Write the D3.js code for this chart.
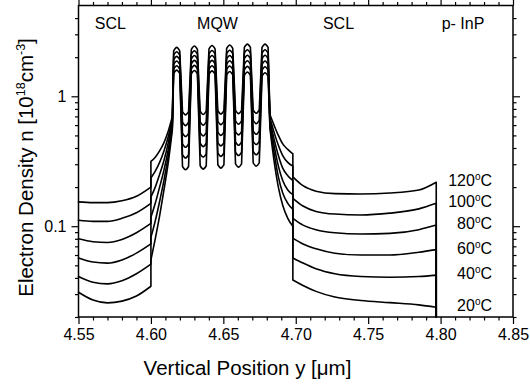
<!DOCTYPE html>
<html>
<head>
<meta charset="utf-8">
<script src="https://cdn.jsdelivr.net/npm/d3@7"></script>
<style>
  body { margin: 0; background: #fff; }
  svg { font-family: "Liberation Sans", Arial, Helvetica, sans-serif; }
</style>
</head>
<body>
<div id="chart"></div>
<script>
// ---- data ----
const temps = [20, 40, 60, 80, 100, 120];

// left SCL, 4.55 - 4.60 um
const sclLeftX = [4.55, 4.56, 4.57, 4.58, 4.59, 4.60];
const sclLeftN = [
  [0.031, 0.027, 0.0257, 0.0265, 0.029, 0.0345],
  [0.041, 0.037, 0.036, 0.038, 0.043, 0.051],
  [0.057, 0.053, 0.052, 0.055, 0.062, 0.073],
  [0.080, 0.076, 0.075, 0.079, 0.089, 0.105],
  [0.111, 0.109, 0.109, 0.115, 0.127, 0.150],
  [0.154, 0.152, 0.152, 0.157, 0.170, 0.200]
];

// graded part before the wells, 4.60 - 4.615 um
const rampLeftX = [4.600, 4.603, 4.606, 4.609, 4.612, 4.6148];
const rampLeftN = [
  [0.055, 0.080, 0.120, 0.190, 0.310, 0.55],
  [0.082, 0.110, 0.155, 0.225, 0.350, 0.58],
  [0.117, 0.150, 0.200, 0.270, 0.390, 0.61],
  [0.168, 0.200, 0.250, 0.320, 0.440, 0.64],
  [0.235, 0.265, 0.310, 0.380, 0.490, 0.67],
  [0.315, 0.340, 0.380, 0.440, 0.540, 0.70]
];

// quantum wells and barriers
const wellX = [4.6178, 4.6300, 4.6422, 4.6544, 4.6666, 4.6788];
const barrierX = [4.6239, 4.6361, 4.6483, 4.6605, 4.6727];
const halfWidth = 0.0021;
const wellPeakN = [
  [1.59, 1.58, 1.57, 1.55, 1.54, 1.52],
  [1.72, 1.73, 1.72, 1.71, 1.70, 1.69],
  [1.87, 1.89, 1.89, 1.88, 1.88, 1.87],
  [2.03, 2.06, 2.06, 2.06, 2.07, 2.07],
  [2.20, 2.24, 2.25, 2.26, 2.28, 2.28],
  [2.38, 2.44, 2.46, 2.48, 2.52, 2.52]
];
const wellEdgeN = [
  [1.50, 1.49, 1.48, 1.46, 1.45, 1.43],
  [1.62, 1.63, 1.62, 1.61, 1.60, 1.59],
  [1.76, 1.78, 1.78, 1.77, 1.77, 1.76],
  [1.92, 1.94, 1.94, 1.94, 1.95, 1.95],
  [2.08, 2.11, 2.12, 2.13, 2.15, 2.15],
  [2.24, 2.30, 2.32, 2.34, 2.38, 2.38]
];
const barrierMinN = [
  [0.272, 0.275, 0.280, 0.285, 0.290],
  [0.335, 0.340, 0.345, 0.350, 0.355],
  [0.405, 0.410, 0.415, 0.420, 0.425],
  [0.490, 0.495, 0.500, 0.505, 0.510],
  [0.595, 0.600, 0.605, 0.610, 0.615],
  [0.720, 0.725, 0.730, 0.735, 0.740]
];
const barrierEdgeN = [
  [0.288, 0.292, 0.297, 0.302, 0.307],
  [0.355, 0.360, 0.366, 0.371, 0.376],
  [0.429, 0.435, 0.440, 0.445, 0.450],
  [0.519, 0.525, 0.530, 0.535, 0.541],
  [0.631, 0.636, 0.641, 0.647, 0.652],
  [0.763, 0.769, 0.774, 0.779, 0.784]
];

// graded part after the wells, 4.682 - 4.698 um
const rampRightX = [4.6822, 4.685, 4.688, 4.691, 4.6945, 4.698];
const rampRightN = [
  [0.56, 0.32, 0.20, 0.145, 0.115, 0.100],
  [0.59, 0.37, 0.24, 0.180, 0.150, 0.135],
  [0.62, 0.42, 0.29, 0.225, 0.190, 0.175],
  [0.65, 0.47, 0.35, 0.280, 0.245, 0.225],
  [0.68, 0.53, 0.42, 0.350, 0.310, 0.290],
  [0.72, 0.60, 0.50, 0.430, 0.390, 0.360]
];

// right SCL, 4.698 - 4.797 um
const sclRightX = [4.698, 4.705, 4.714, 4.727, 4.745, 4.765, 4.785, 4.797];
const sclRightN = [
  [0.0385, 0.035, 0.0315, 0.0285, 0.0268, 0.0258, 0.0248, 0.0238],
  [0.057, 0.052, 0.047, 0.043, 0.041, 0.0405, 0.041, 0.042],
  [0.081, 0.073, 0.067, 0.062, 0.060, 0.060, 0.063, 0.066],
  [0.115, 0.102, 0.094, 0.089, 0.087, 0.088, 0.094, 0.102],
  [0.164, 0.143, 0.130, 0.124, 0.122, 0.126, 0.136, 0.150],
  [0.240, 0.205, 0.186, 0.178, 0.177, 0.180, 0.190, 0.218]
];

const regionLabels = ["SCL", "MQW", "SCL", "p- InP"];
const regionX = [4.572, 4.646, 4.7295, 4.8155];

const xMajor = [4.55, 4.60, 4.65, 4.70, 4.75, 4.80, 4.85];
const xMinor = d3.range(455, 486).map(i => i / 100).filter(v => !xMajor.some(m => Math.abs(m - v) < 1e-6));
const yMajor = [0.1, 1];
const yMinor = [0.02, 0.03, 0.04, 0.05, 0.06, 0.07, 0.08, 0.09,
                0.2, 0.3, 0.4, 0.5, 0.6, 0.7, 0.8, 0.9, 2, 3, 4];

// ---- layout ----
const width = 530, height = 386;
const plot = { left: 78.5, right: 513, top: 5.5, bottom: 317 };

const x = d3.scaleLinear().domain([4.55, 4.85]).range([plot.left, plot.right]);
const y = d3.scaleLog().domain([0.02, 5]).range([plot.bottom, plot.top]);

const svg = d3.select("#chart").append("svg")
    .attr("width", width)
    .attr("height", height)
    .attr("viewBox", `0 0 ${width} ${height}`);

// axes: major + minor ticks on all four sides, pointing outward
function styleAxis(g) {
  g.select(".domain").remove();
  g.selectAll(".tick line").attr("stroke", "#000").attr("stroke-width", 1.2);
  g.selectAll("text").attr("fill", "#000").style("font-size", "16px");
}

svg.append("g").attr("transform", `translate(0,${plot.bottom})`)
    .call(d3.axisBottom(x).tickValues(xMajor).tickSize(7).tickPadding(5).tickFormat(d3.format(".2f")))
    .call(styleAxis);
svg.append("g").attr("transform", `translate(0,${plot.bottom})`)
    .call(d3.axisBottom(x).tickValues(xMinor).tickSize(3.5).tickFormat(""))
    .call(styleAxis);
svg.append("g").attr("transform", `translate(0,${plot.top})`)
    .call(d3.axisTop(x).tickValues(xMajor).tickSize(7).tickFormat(""))
    .call(styleAxis);
svg.append("g").attr("transform", `translate(0,${plot.top})`)
    .call(d3.axisTop(x).tickValues(xMinor).tickSize(3.5).tickFormat(""))
    .call(styleAxis);

svg.append("g").attr("transform", `translate(${plot.left},0)`)
    .call(d3.axisLeft(y).tickValues(yMajor).tickSize(7).tickPadding(5).tickFormat(d3.format("~g")))
    .call(styleAxis);
svg.append("g").attr("transform", `translate(${plot.left},0)`)
    .call(d3.axisLeft(y).tickValues(yMinor).tickSize(3.5).tickFormat(""))
    .call(styleAxis);
svg.append("g").attr("transform", `translate(${plot.right},0)`)
    .call(d3.axisRight(y).tickValues(yMajor).tickSize(7).tickFormat(""))
    .call(styleAxis);
svg.append("g").attr("transform", `translate(${plot.right},0)`)
    .call(d3.axisRight(y).tickValues(yMinor).tickSize(3.5).tickFormat(""))
    .call(styleAxis);

// frame
svg.append("rect")
    .attr("x", plot.left).attr("y", plot.top)
    .attr("width", plot.right - plot.left).attr("height", plot.bottom - plot.top)
    .attr("fill", "none").attr("stroke", "#000").attr("stroke-width", 1.5);

// ---- curves ----
// each piece is smoothed on its own; pieces are joined by straight segments
const smooth = d3.line().x(d => x(d[0])).y(d => y(d[1])).curve(d3.curveMonotoneX);
function joinPieces(pieces) {
  return pieces.map((p, i) => {
    const d = p.length > 1 ? smooth(p) : `M${x(p[0][0])},${y(p[0][1])}`;
    return i === 0 ? d : "L" + d.slice(1);
  }).join("");
}

const curves = svg.append("g")
    .attr("fill", "none")
    .attr("stroke", "#000")
    .attr("stroke-width", 1.6)
    .attr("stroke-linejoin", "round")
    .attr("stroke-linecap", "round");

temps.forEach((t, k) => {
  const pieces = [];
  pieces.push(sclLeftX.map((v, i) => [v, sclLeftN[k][i]]));
  pieces.push(rampLeftX.map((v, i) => [v, rampLeftN[k][i]]));
  wellX.forEach((c, i) => {
    pieces.push([[c - halfWidth, wellEdgeN[k][i]], [c, wellPeakN[k][i]], [c + halfWidth, wellEdgeN[k][i]]]);
    if (i < barrierX.length) {
      const b = barrierX[i];
      pieces.push([[b - halfWidth, barrierEdgeN[k][i]], [b, barrierMinN[k][i]], [b + halfWidth, barrierEdgeN[k][i]]]);
    }
  });
  pieces.push(rampRightX.map((v, i) => [v, rampRightN[k][i]]));
  pieces.push(sclRightX.map((v, i) => [v, sclRightN[k][i]]));
  pieces.push([[4.797, 0.02]]);

  curves.append("path").attr("d", joinPieces(pieces));

  // temperature label next to the end of each curve
  const lab = svg.append("text")
      .attr("x", 492)
      .attr("y", y(sclRightN[k].at(-1)) + 4)
      .attr("text-anchor", "end")
      .style("font-size", "16px");
  lab.append("tspan").text(t);
  lab.append("tspan").attr("dy", -6).style("font-size", "10px").text("o");
  lab.append("tspan").attr("dy", 6).text("C");
});

// region labels along the top
svg.append("g").selectAll("text")
  .data(regionLabels)
  .join("text")
    .attr("x", (d, i) => x(regionX[i]))
    .attr("y", 28.5)
    .attr("text-anchor", "middle")
    .style("font-size", "16px")
    .text(d => d);

// axis titles
svg.append("text")
    .attr("x", 247.5).attr("y", 375)
    .attr("text-anchor", "middle")
    .style("font-size", "20.5px")
    .text("Vertical Position y [\u03bcm]");

const yt = svg.append("text")
    .attr("transform", "translate(33,167.5) rotate(-90)")
    .attr("text-anchor", "middle")
    .style("font-size", "20.5px");
yt.append("tspan").text("Electron Density n [10");
yt.append("tspan").attr("dy", -8).style("font-size", "12.5px").text("18");
yt.append("tspan").attr("dy", 8).text("cm");
yt.append("tspan").attr("dy", -8).style("font-size", "12.5px").text("-3");
yt.append("tspan").attr("dy", 8).text("]");
</script>
</body>
</html>
